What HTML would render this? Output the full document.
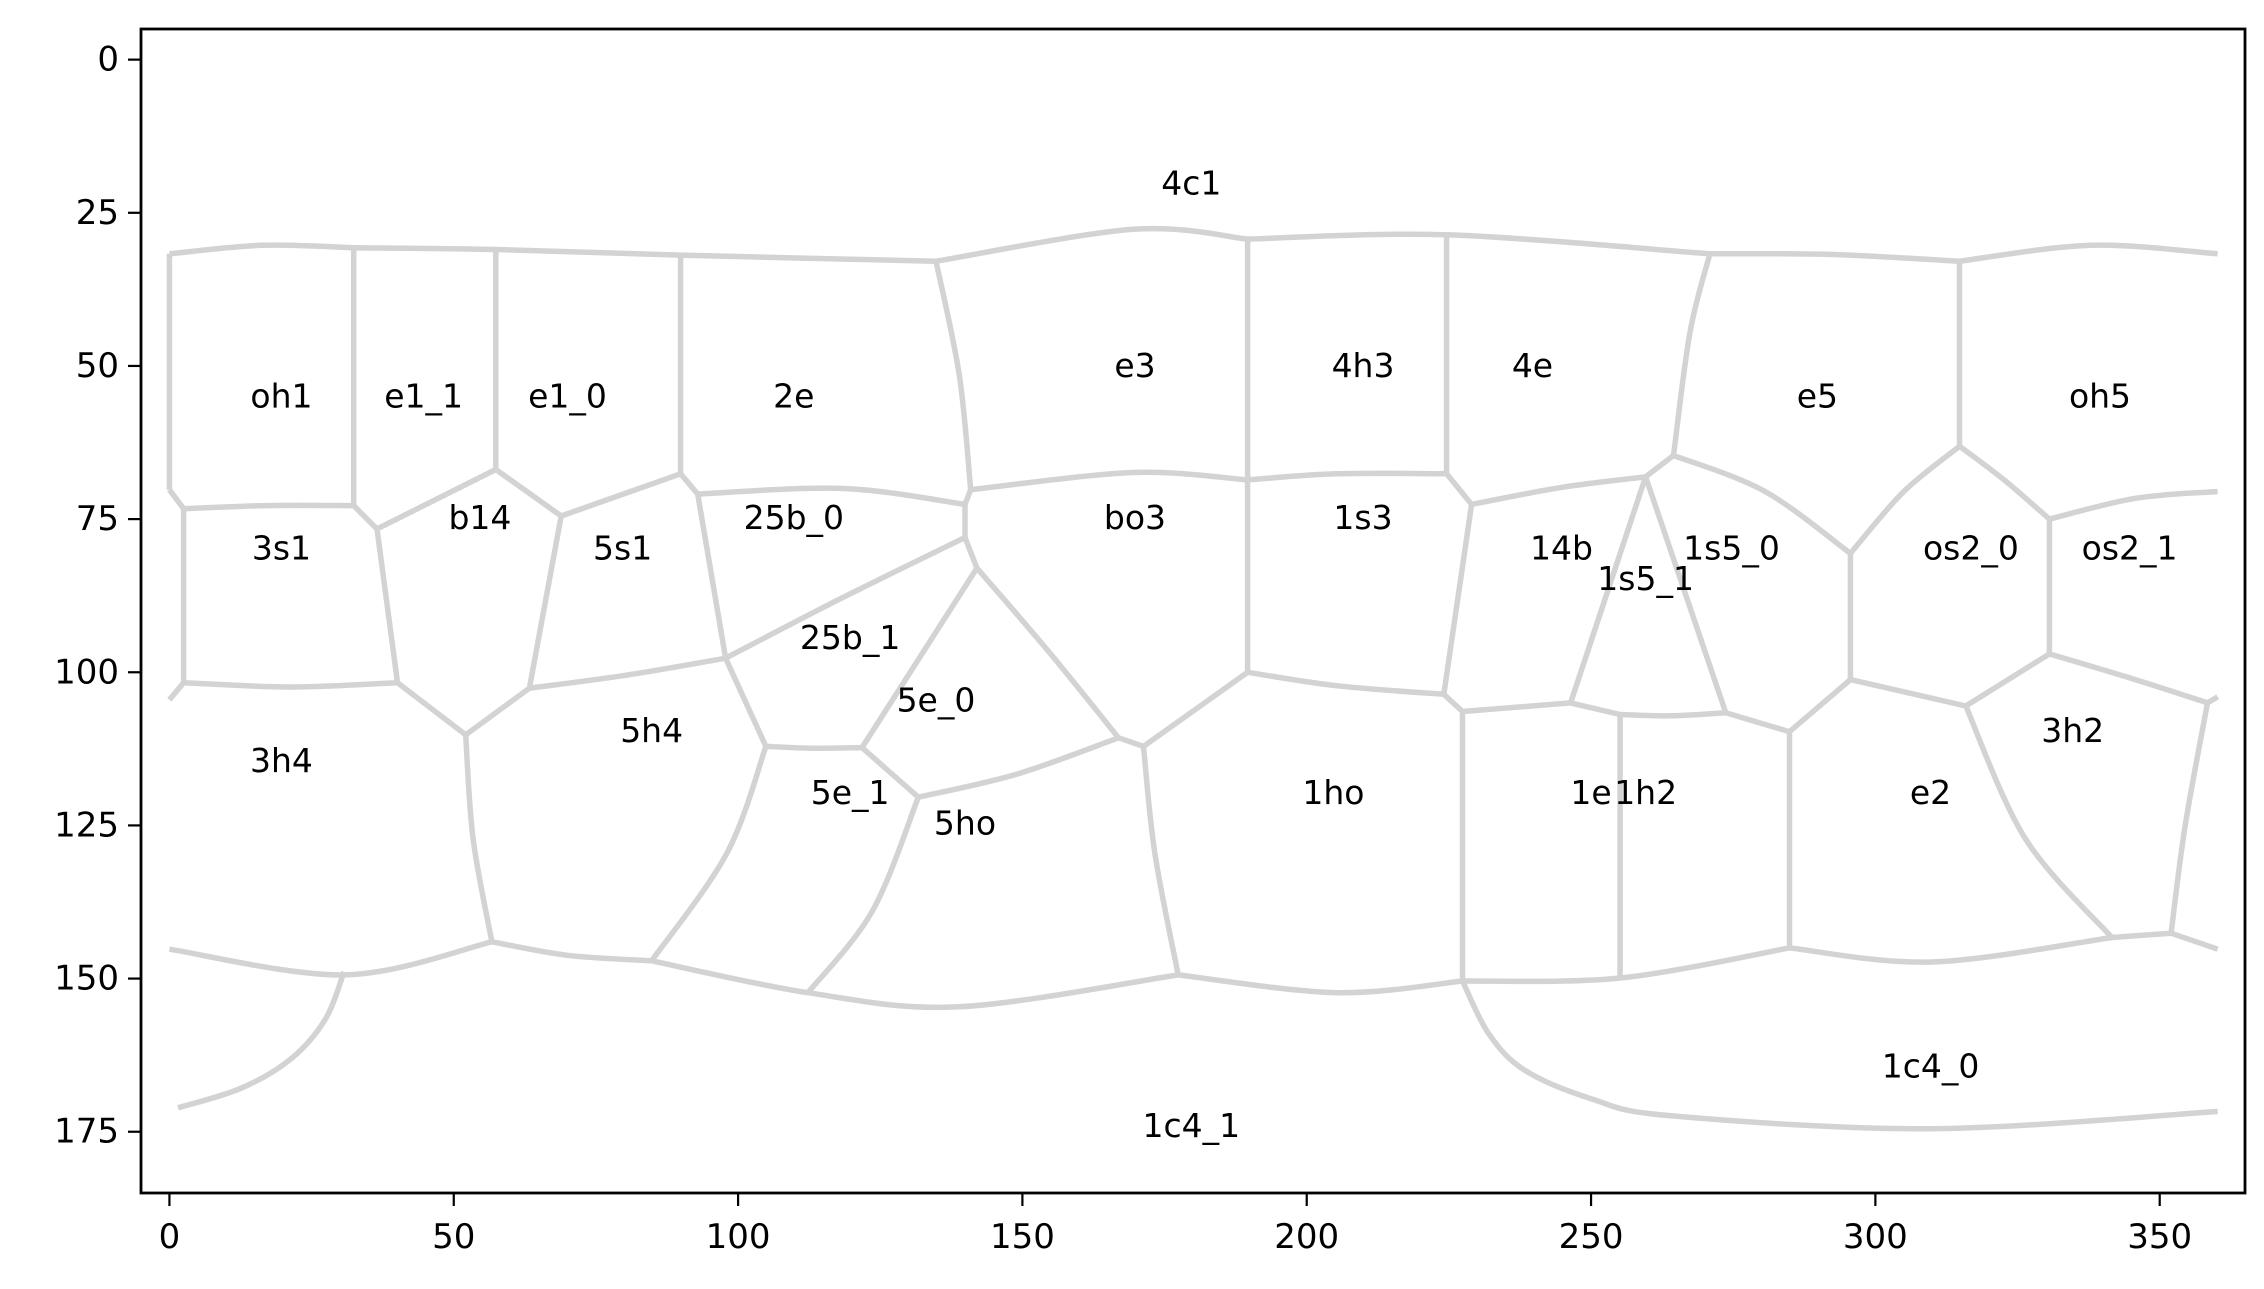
<!DOCTYPE html>
<html><head><meta charset="utf-8">
<style>
html,body{margin:0;padding:0;background:#fff;}
svg{display:block;}
text{font-family:"DejaVu Sans","Liberation Sans",sans-serif;}
</style></head>
<body>
<svg id="chart" width="2264" height="1289" viewBox="0 0 2264 1289" xmlns="http://www.w3.org/2000/svg">
<rect x="0" y="0" width="2264" height="1289" fill="#fff"/>
<g id="edges"></g>
<g id="labels"></g>
<g id="axes"></g>
</svg>
<script>
const xTicks = [0, 50, 100, 150, 200, 250, 300, 350];
const yTicks = [0, 25, 50, 75, 100, 125, 150, 175];
const regionNames = ["oh1","e1_1","e1_0","2e","4c1","e3","4h3","4e","e5","oh5","3s1","b14","5s1","25b_0","bo3","1s3","14b","1s5_0","1s5_1","os2_0","os2_1","25b_1","5e_0","3h4","5h4","5e_1","5ho","1ho","1e","1h2","e2","3h2","1c4_0","1c4_1"];
const labelX = [19.7,44.7,70,109.8,179.7,169.8,209.9,239.7,289.8,339.5,19.7,54.6,79.7,109.8,169.8,209.9,244.8,274.7,259.6,316.8,344.7,119.7,134.8,19.7,84.8,119.7,139.9,204.7,250,259.6,309.7,334.7,309.7,179.7];
const labelY = [54.9,54.9,54.9,54.9,20.1,49.9,49.9,49.9,54.9,54.9,79.7,74.7,79.7,74.7,74.7,74.7,79.7,79.7,84.7,79.7,79.7,94.3,104.5,114.4,109.5,119.6,124.6,119.6,119.6,119.6,119.6,109.5,164.3,174];
const edges = [
[[0,31.7],[16.3,30.3],[32.4,30.7]],
[[32.4,30.7],[57.4,31],[89.9,31.9],[134.8,32.9]],
[[134.8,32.9],[169.5,27.7],[189.6,29.3]],
[[189.6,29.3],[224.6,28.6],[270.9,31.7]],
[[270.9,31.7],[292,31.8],[314.8,32.9]],
[[314.8,32.9],[338,30.3],[360.2,31.7]],
[[0,31.7],[0,70.2]],[[0,70.2],[2.5,73.3]],
[[32.4,30.7],[32.4,72.8]],
[[57.4,31],[57.4,66.9]],
[[89.9,31.9],[89.9,67.6]],[[89.9,67.6],[92.9,70.9]],
[[134.8,32.9],[138.9,51.5],[140.9,70.2]],[[140.9,70.2],[139.9,72.6]],
[[189.6,29.3],[189.6,68.6]],
[[224.6,28.6],[224.6,67.6]],[[224.6,67.6],[229,72.6]],
[[270.9,31.7],[267.4,44.5],[264.5,64.6]],
[[314.8,32.9],[314.8,63.1]],
[[2.5,73.3],[17,72.8],[32.4,72.8]],[[32.4,72.8],[36.5,76.6]],[[36.5,76.6],[57.4,66.9]],[[57.4,66.9],[68.9,74.5]],[[68.9,74.5],[89.9,67.6]],
[[92.9,70.9],[118.5,70],[139.9,72.6]],
[[140.9,70.2],[169.5,67.4],[189.6,68.6]],
[[189.6,68.6],[205.2,67.6],[224.6,67.6]],
[[229,72.6],[245,69.8],[259.6,68.1]],[[259.6,68.1],[264.5,64.6]],
[[264.5,64.6],[280.6,70.5],[295.6,80.6]],
[[295.6,80.6],[305,70.5],[314.8,63.1]],
[[314.8,63.1],[322.5,68.5],[330.6,75]],
[[330.6,75],[345.7,71.6],[360.2,70.5]],
[[2.5,73.3],[2.5,101.7]],[[2.5,101.7],[0,104.5]],
[[36.5,76.6],[40.1,101.7]],
[[68.9,74.5],[63.3,102.6]],
[[92.9,70.9],[97.8,97.7]],
[[139.9,72.6],[139.9,78]],[[139.9,78],[142,83]],
[[139.9,78],[118,88],[97.8,97.7]],
[[142,83],[154.5,96.5],[166.9,110.7]],[[166.9,110.7],[171.3,112.1]],
[[142,83],[121.8,112.3]],
[[189.6,68.6],[189.6,100]],
[[229,72.6],[224.1,103.6]],
[[259.6,68.1],[246.4,105]],
[[259.6,68.1],[273.7,106.6]],
[[295.6,80.6],[295.6,101.2]],
[[330.6,75],[330.6,97]],
[[2.5,101.7],[21.4,102.4],[40.1,101.7]],
[[40.1,101.7],[52.1,110.2]],[[52.1,110.2],[63.3,102.6]],
[[63.3,102.6],[80.2,100.5],[97.8,97.7]],
[[97.8,97.7],[104.9,112.1]],[[104.9,112.1],[113,112.4],[121.8,112.3]],
[[121.8,112.3],[131.7,120.4]],
[[131.7,120.4],[149.1,116.6],[166.9,110.7]],
[[171.3,112.1],[189.6,100]],
[[189.6,100],[205.2,102.2],[224.1,103.6]],[[224.1,103.6],[227.4,106.4]],
[[227.4,106.4],[246.4,105]],[[246.4,105],[255.1,106.9]],[[255.1,106.9],[264,107.1],[273.7,106.6]],[[273.7,106.6],[284.9,109.7]],[[284.9,109.7],[295.6,101.2]],
[[295.6,101.2],[315.9,105.5]],[[315.9,105.5],[330.6,97]],
[[330.6,97],[345.7,101.2],[358.4,105]],[[358.4,105],[360.2,104]],
[[52.1,110.2],[53.4,127.2],[56.7,144]],
[[104.9,112.1],[98,129.6],[84.8,147.1]],
[[131.7,120.4],[123.6,139],[112.3,152.3]],
[[171.3,112.1],[173.3,129.6],[177.4,149.4]],
[[227.4,106.4],[227.4,150.4]],
[[255.1,106.9],[255.1,149.9]],
[[284.9,109.7],[284.9,145]],
[[315.9,105.5],[326.4,127.2],[341.6,143.3]],
[[358.4,105],[354.5,124.9],[352,142.6]],
[[0,145.2],[30.9,149.4],[56.7,144]],
[[56.7,144],[70,146.2],[84.8,147.1]],
[[84.8,147.1],[112.3,152.3],[138.9,154.6],[177.4,149.4]],
[[177.4,149.4],[205.2,152.3],[227.4,150.4]],
[[227.4,150.4],[255.1,149.9],[284.9,145]],
[[284.9,145],[310,147.3],[341.6,143.3]],[[341.6,143.3],[352,142.6]],[[352,142.6],[360.2,145.2]],
[[1.5,171.1],[12.6,167.9],[21.5,163],[27.5,156.5],[30.7,148.9]],
[[227.4,150.4],[232,159],[238.4,165],[250,169.6],[264,172.4],[310,174.5],[360.2,171.7]]
];

const NS = "http://www.w3.org/2000/svg";
const PL = 141, PR = 2245, PT = 29, PB = 1193;
const XMIN = -5, XMAX = 365, YMIN = -5, YMAX = 185;
function sx(v){ return PL + (v - XMIN) * (PR - PL) / (XMAX - XMIN); }
function sy(v){ return PT + (v - YMIN) * (PB - PT) / (YMAX - YMIN); }

function pathFor(pts){
  const p = pts.map(q => [sx(q[0]), sy(q[1])]);
  let d = "M" + p[0][0].toFixed(1) + "," + p[0][1].toFixed(1);
  if (p.length === 2) return d + " L" + p[1][0].toFixed(1) + "," + p[1][1].toFixed(1);
  for (let i = 0; i < p.length - 1; i++) {
    const p0 = p[i - 1] || p[i], p1 = p[i], p2 = p[i + 1], p3 = p[i + 2] || p[i + 1];
    const c1 = [p1[0] + (p2[0] - p0[0]) / 6, p1[1] + (p2[1] - p0[1]) / 6];
    const c2 = [p2[0] - (p3[0] - p1[0]) / 6, p2[1] - (p3[1] - p1[1]) / 6];
    d += " C" + c1[0].toFixed(1) + "," + c1[1].toFixed(1) + " " + c2[0].toFixed(1) + "," + c2[1].toFixed(1) + " " + p2[0].toFixed(1) + "," + p2[1].toFixed(1);
  }
  return d;
}

const gE = document.getElementById("edges");
edges.forEach((e) => {
  const el = document.createElementNS(NS, "path");
  el.setAttribute("d", pathFor(e));
  el.setAttribute("fill", "none");
  el.setAttribute("stroke", "#d3d3d3");
  el.setAttribute("stroke-width", "5.5");
  el.setAttribute("stroke-linejoin", "round");
  
  
  gE.appendChild(el);
});

const gL = document.getElementById("labels");
regionNames.forEach((n, i) => {
  const t = document.createElementNS(NS, "text");
  t.setAttribute("x", sx(labelX[i]));
  t.setAttribute("y", sy(labelY[i]));
  t.setAttribute("text-anchor", "middle");
  t.setAttribute("dominant-baseline", "central");
  t.setAttribute("font-size", "33");
  t.setAttribute("fill", "#000");
  t.textContent = n;
  
  
  gL.appendChild(t);
});

const gA = document.getElementById("axes");
const frame = document.createElementNS(NS, "rect");
frame.setAttribute("x", PL); frame.setAttribute("y", PT);
frame.setAttribute("width", PR - PL); frame.setAttribute("height", PB - PT);
frame.setAttribute("fill", "none"); frame.setAttribute("stroke", "#000"); frame.setAttribute("stroke-width", "2.8");


gA.appendChild(frame);

xTicks.forEach(v => {
  const x = sx(v);
  const l = document.createElementNS(NS, "line");
  l.setAttribute("x1", x); l.setAttribute("x2", x); l.setAttribute("y1", PB); l.setAttribute("y2", PB + 13);
  l.setAttribute("stroke", "#000"); l.setAttribute("stroke-width", "2.2");
  
  
  gA.appendChild(l);
  const t = document.createElementNS(NS, "text");
  t.setAttribute("x", x); t.setAttribute("y", PB + 55);
  t.setAttribute("text-anchor", "middle"); t.setAttribute("font-size", "34");
  t.textContent = v;
  
  
  gA.appendChild(t);
});
yTicks.forEach(v => {
  const y = sy(v);
  const l = document.createElementNS(NS, "line");
  l.setAttribute("x1", PL - 13); l.setAttribute("x2", PL); l.setAttribute("y1", y); l.setAttribute("y2", y);
  l.setAttribute("stroke", "#000"); l.setAttribute("stroke-width", "2.2");
  
  
  gA.appendChild(l);
  const t = document.createElementNS(NS, "text");
  t.setAttribute("x", PL - 22); t.setAttribute("y", y);
  t.setAttribute("text-anchor", "end"); t.setAttribute("dominant-baseline", "central"); t.setAttribute("font-size", "34");
  t.textContent = v;
  
  
  gA.appendChild(t);
});
</script>
</body></html>
